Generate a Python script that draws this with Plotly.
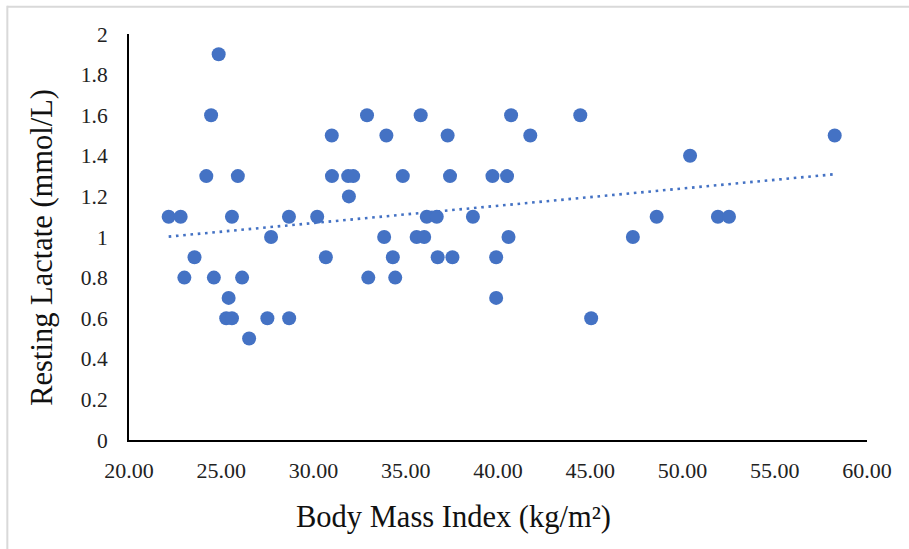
import numpy as np
import plotly.graph_objects as go

# ---- data ----
bmi = [
    24.86,
    24.45, 32.90, 35.81, 40.71, 44.46,
    30.99, 33.95, 37.27, 41.75, 58.25,
    50.41,
    24.19, 25.90, 31.00, 31.88, 32.15, 34.84, 37.40, 39.70, 40.49,
    31.92,
    22.15, 22.80, 25.58, 28.67, 30.20, 36.14, 36.68, 38.64, 48.60, 51.92, 52.52,
    27.70, 33.83, 35.59, 36.00, 40.57, 47.31,
    23.55, 30.67, 34.30, 36.73, 37.53, 39.90,
    23.00, 24.60, 26.13, 32.97, 34.43,
    25.40, 39.90,
    25.27, 25.58, 27.50, 28.68, 45.05,
    26.51,
]
lactate = (
    [1.9]
    + [1.6] * 5
    + [1.5] * 5
    + [1.4]
    + [1.3] * 9
    + [1.2]
    + [1.1] * 11
    + [1.0] * 6
    + [0.9] * 6
    + [0.8] * 5
    + [0.7] * 2
    + [0.6] * 5
    + [0.5]
)

x_tickvals = [20, 25, 30, 35, 40, 45, 50, 55, 60]
x_ticktext = ["20.00", "25.00", "30.00", "35.00", "40.00", "45.00", "50.00", "55.00", "60.00"]
y_tickvals = [0, 0.2, 0.4, 0.6, 0.8, 1.0, 1.2, 1.4, 1.6, 1.8, 2.0]
y_ticktext = ["0", "0.2", "0.4", "0.6", "0.8", "1", "1.2", "1.4", "1.6", "1.8", "2"]

x_title = "Body Mass Index (kg/m²)"
y_title = "Resting Lactate (mmol/L)"

# ---- linear trendline (least squares, like Excel) ----
slope, intercept = np.polyfit(bmi, lactate, 1)
tx = np.array([min(bmi), max(bmi)])
ty = slope * tx + intercept

BLUE = "#4472C4"
FONT = "Liberation Serif, Times New Roman, serif"

W, H = 909, 549
ML, MR, MT, MB = 128.5, 42.3, 33.5, 109
PW = W - ML - MR
PH = H - MT - MB


def px_to_paper_x(px):
    return (px - ML) / PW


def px_to_paper_y(py):
    return (H - MB - py) / PH


fig = go.Figure()
fig.add_trace(go.Scatter(
    x=bmi, y=lactate, mode="markers",
    marker=dict(size=14, color=BLUE, line=dict(width=0)),
    showlegend=False, hoverinfo="x+y",
))
fig.add_trace(go.Scatter(
    x=tx, y=ty, mode="lines",
    line=dict(color=BLUE, width=2.6, dash="2.6px,4.7px"),
    showlegend=False, hoverinfo="skip",
))

fig.update_layout(
    width=W, height=H,
    margin=dict(l=ML, r=MR, t=MT, b=MB, pad=0),
    paper_bgcolor="white", plot_bgcolor="white",
    font=dict(family=FONT, color="#222222"),
    showlegend=False,
    xaxis=dict(
        range=[20, 60], tickvals=x_tickvals, ticktext=x_ticktext,
        showgrid=False, zeroline=False, showline=True,
        linecolor="black", linewidth=2, ticks="",
        tickfont=dict(family=FONT, size=22, color="#222222"),
        ticklabelstandoff=10,
    ),
    yaxis=dict(
        range=[0, 2], tickvals=y_tickvals, ticktext=y_ticktext,
        showgrid=False, zeroline=False, showline=True,
        linecolor="black", linewidth=2, ticks="",
        tickfont=dict(family=FONT, size=21.5, color="#222222"),
        ticklabelstandoff=15,
    ),
    annotations=[
        dict(text=x_title, xref="paper", yref="paper",
             x=px_to_paper_x(453), y=px_to_paper_y(517),
             xanchor="center", yanchor="middle", showarrow=False,
             font=dict(family=FONT, size=30.5, color="#111111")),
        dict(text=y_title, xref="paper", yref="paper", textangle=-90,
             x=px_to_paper_x(42), y=px_to_paper_y(247),
             xanchor="center", yanchor="middle", showarrow=False,
             font=dict(family=FONT, size=30.5, color="#111111")),
    ],
    shapes=[
        dict(type="line", xref="paper", yref="paper",
             x0=px_to_paper_x(6.5), x1=px_to_paper_x(W + 5),
             y0=px_to_paper_y(6.3), y1=px_to_paper_y(6.3),
             line=dict(color="#d9d9d9", width=2)),
        dict(type="line", xref="paper", yref="paper",
             x0=px_to_paper_x(6.8), x1=px_to_paper_x(6.8),
             y0=px_to_paper_y(5.3), y1=px_to_paper_y(H + 5),
             line=dict(color="#d9d9d9", width=2)),
    ],
)

fig.write_html("out.html")
